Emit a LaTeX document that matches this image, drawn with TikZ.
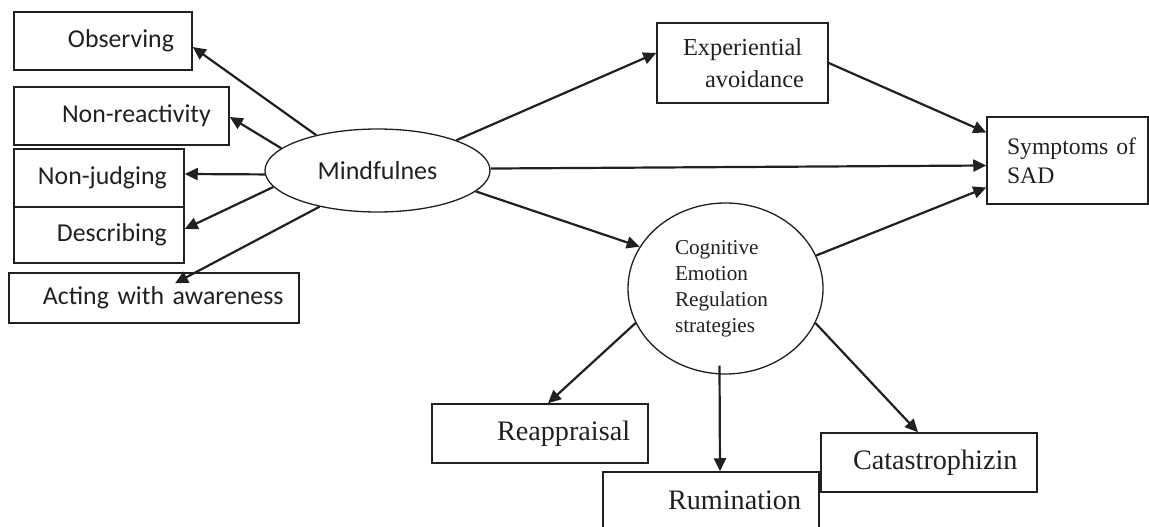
\documentclass[tikz,border=0pt]{standalone}
\usepackage{fontspec}
\setmainfont{Liberation Serif}
\newfontfamily\carlito{Carlito}
\usetikzlibrary{arrows.meta,shapes.geometric}
\definecolor{ink}{HTML}{231F20}
\begin{document}
\begin{tikzpicture}[x=1pt,y=-1pt,
  box/.style={draw=ink, line width=1.5pt, rectangle, inner sep=0pt, text=ink, align=left},
  sbox/.style={box, font=\carlito\fontsize{25.8}{31}\selectfont},
  tbox/.style={box, font=\fontsize{28.2}{34}\selectfont},
  oval/.style={draw=ink, line width=1.3pt, ellipse, inner sep=0pt, text=ink},
  arr/.style={draw=ink, line width=2.2pt, -{Triangle[length=13pt,width=12pt]}}]
\useasboundingbox (0,0) rectangle (1149,527);
\clip (0,0) rectangle (1149,527);
% left boxes
\node[sbox, minimum width=178pt, minimum height=58pt, text width=178pt] (obs) at (103,41) {\hspace*{54pt}Observing};
\node[sbox, minimum width=215pt, minimum height=58pt, text width=215pt] (nr) at (121.5,116) {\hspace*{48pt}Non-reactivity};
\node[sbox, minimum width=170pt, minimum height=58pt, text width=170pt] (nj) at (99,178) {\hspace*{24pt}Non-judging};
\node[sbox, minimum width=170pt, minimum height=56pt, text width=170pt] (desc) at (99,235) {\hspace*{43pt}Describing};
\node[sbox, minimum width=290pt, minimum height=50pt, text width=290pt] (act) at (154,298) {\hspace*{34pt}Acting with awareness};
% ellipses
\node[oval, minimum width=225pt, minimum height=83pt, font=\carlito\fontsize{26}{31}\selectfont] (mind) at (377.5,170.5) {Mindfulnes};
\node[oval, minimum width=195pt, minimum height=171pt, text width=101pt, align=left, font=\fontsize{21.2}{26}\selectfont] (cog) at (725.5,288.5) {Cognitive\\Emotion\\Regulation\\strategies};
% right boxes
\node[box, font=\fontsize{24.4}{32}\selectfont, minimum width=171pt, minimum height=80pt, text width=171pt] (exp) at (742.5,63) {\hspace*{26pt}Experiential\\\hspace*{48pt}avoidance};
\node[box, font=\fontsize{23.7}{29}\selectfont, minimum width=161pt, minimum height=87pt, text width=161pt] (sym) at (1067.5,160.5) {\hspace*{20pt}Symptoms of\\\hspace*{20pt}SAD};
\node[tbox, minimum width=216pt, minimum height=59pt, text width=216pt] (reap) at (540,433.5) {\hspace*{65pt}Reappraisal};
\node[tbox, minimum width=216pt, minimum height=57pt, text width=216pt] (rum) at (711,500.5) {\hspace*{65pt}Rumination};
\node[tbox, minimum width=216pt, minimum height=59pt, text width=216pt] (cat) at (929,462.5) {\hspace*{32pt}Catastrophizin};
% arrows from Mindfulnes
\draw[arr] (mind.150) -- ([yshift=-6pt]obs.east);
\draw[arr] (mind.167) -- ([yshift=-1pt]nr.east);
\draw[arr] (mind.182) -- ([yshift=4pt]nj.east);
\draw[arr] (mind.189) -- ([yshift=6pt]desc.east);
\draw[arr] (mind.212) -- ([xshift=21pt,yshift=-11pt]act.north);
\draw[arr] (mind.21) -- ([yshift=10pt]exp.west);
\draw[arr] (mind.1) -- ([yshift=-5pt]sym.west);
\draw[arr] (mind.348) -- (cog.154);
% to Symptoms
\draw[arr] (exp.east) -- ([yshift=28pt]sym.west);
\draw[arr] (cog.20) -- ([yshift=-27pt]sym.west);
% from Cognitive
\draw[arr] (cog.201) -- ([xshift=8pt]reap.north);
\draw[arr] ([xshift=-6pt,yshift=9pt]cog.south) -- ([xshift=9pt]rum.north);
\draw[arr] (cog.339) -- ([xshift=-11pt]cat.north);
\end{tikzpicture}
\end{document}
